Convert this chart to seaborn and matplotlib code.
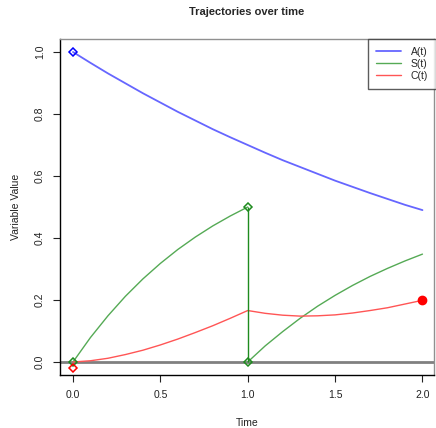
import numpy as np
import pandas as pd
import matplotlib
matplotlib.use('Agg')
import matplotlib.pyplot as plt
import seaborn as sns

# valores (passo de 0.1)
t_a = [0.0, 0.1, 0.2, 0.3, 0.4, 0.5, 0.6, 0.7, 0.8, 0.9, 1.0,
       1.1, 1.2, 1.3, 1.4, 1.5, 1.6, 1.7, 1.8, 1.9, 2.0]
a_vals = [1.0, 0.965, 0.931, 0.899, 0.867, 0.837, 0.807, 0.779, 0.751, 0.725, 0.700,
          0.675, 0.651, 0.629, 0.607, 0.585, 0.565, 0.545, 0.526, 0.507, 0.490]

t_s1 = [0.0, 0.1, 0.2, 0.3, 0.4, 0.5, 0.6, 0.7, 0.8, 0.9, 1.0]
s1_vals = [0.0, 0.079, 0.149, 0.212, 0.268, 0.318, 0.363, 0.403, 0.439, 0.471, 0.500]
t_s2 = [1.0, 1.1, 1.2, 1.3, 1.4, 1.5, 1.6, 1.7, 1.8, 1.9, 2.0]
s2_vals = [0.0, 0.052, 0.098, 0.141, 0.180, 0.215, 0.247, 0.276, 0.302, 0.326, 0.348]

t_c = t_a
c_vals = [0.0, 0.004, 0.012, 0.024, 0.038, 0.055, 0.074, 0.095, 0.117, 0.141, 0.166,
          0.157, 0.151, 0.148, 0.149, 0.152, 0.158, 0.166, 0.175, 0.187, 0.199]

# marcadores
diam_t = [0.0, 0.0, 1.0, 1.0, 0.0]
diam_v = [1.0, 0.0, 0.5, 0.0, -0.02]
diam_cor = ['A', 'S', 'S', 'S', 'C']
c_end = 0.199

BLUE, GREEN, RED = '#6666FF', '#55AA55', '#FF5555'
BLUE_D, GREEN_D, RED_D = '#0000FF', '#1E8B1E', '#FF0000'

sns.set_style('white')
plt.rcParams['font.family'] = ['Liberation Sans', 'DejaVu Sans']

fig = plt.figure(figsize=(4.36, 4.28), dpi=100)
ax = fig.add_axes([0.1376, 0.1238, 0.8578, 0.7851])

ax.axhline(0, color='#808080', lw=2, zorder=1)

sns.lineplot(x=t_a, y=a_vals, ax=ax, color=BLUE, lw=1.3, label='A(t)')
sns.lineplot(x=t_s1, y=s1_vals, ax=ax, color=GREEN, lw=1.0, label='S(t)')
sns.lineplot(x=t_s2, y=s2_vals, ax=ax, color=GREEN, lw=1.0)
sns.lineplot(x=t_c, y=c_vals, ax=ax, color=RED, lw=1.0, label='C(t)')

ax.vlines(t_s1[-1], s2_vals[0], s1_vals[-1], color=GREEN_D, lw=1.0)

cores = {'A': BLUE_D, 'S': GREEN_D, 'C': RED_D}
for tt, vv, cc in zip(diam_t, diam_v, diam_cor):
    ax.plot(tt, vv, marker='D', ms=4.5, mfc='none', mec=cores[cc], mew=1.1)
ax.plot(t_c[-1], c_end, marker='o', ms=6, color=RED_D)

ax.set_xlim(-0.0744, 2.066)
ax.set_ylim(-0.042, 1.042)
ax.set_xticks([0.0, 0.5, 1.0, 1.5, 2.0])
ax.set_yticks([0.0, 0.2, 0.4, 0.6, 0.8, 1.0])
ax.set_xticklabels(['0.0', '0.5', '1.0', '1.5', '2.0'])
ax.set_yticklabels(['0.0', '0.2', '0.4', '0.6', '0.8', '1.0'], rotation=90, va='center')
ax.tick_params(axis='both', length=5, width=0.8, color='#222222', labelsize=7.5,
               labelcolor='#222222', direction='out', bottom=True, left=True, pad=6)

ax.set_xlabel('Time', fontsize=7.5, color='#222222', labelpad=13)
ax.set_ylabel('Variable Value', fontsize=7.5, color='#222222', labelpad=10)
ax.set_title('Trajectories over time', fontsize=8, fontweight='bold', pad=17)

ax.spines['left'].set_color('black')
ax.spines['bottom'].set_color('black')
ax.spines['top'].set_color('#909090')
ax.spines['right'].set_color('#909090')
for s in ax.spines.values():
    s.set_linewidth(1.0)

leg = ax.legend(loc='upper right', fontsize=7.5, frameon=True, fancybox=False,
                borderaxespad=0, handlelength=2.4, handletextpad=0.9,
                labelspacing=0.2, borderpad=0.75, bbox_to_anchor=(1.005, 1.0))
leg.get_frame().set_edgecolor('#333333')
leg.get_frame().set_linewidth(1.0)

fig.savefig('out.png', dpi=100)
